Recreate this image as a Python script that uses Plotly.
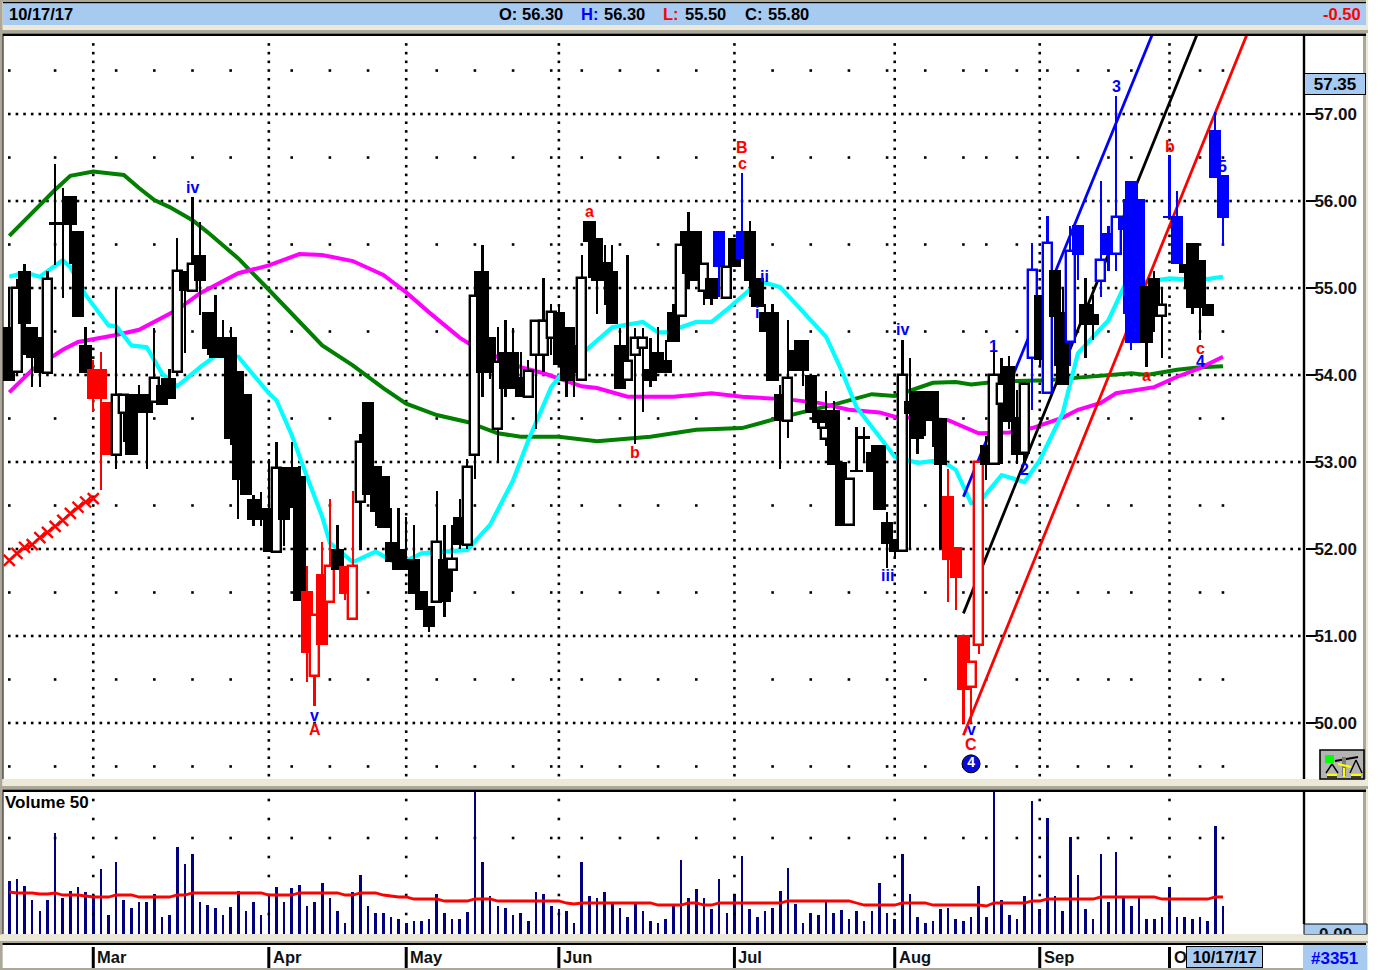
import plotly.graph_objects as go
import numpy as np

W, H = 1400, 970
opens = [54.55,54.03,55.20,54.55,54.44,54.02,55.76,55.76,56.06,55.66,54.34,54.07,54.07,53.69,53.08,53.56,53.78,53.78,53.78,53.69,
53.88,53.97,54.03,55.20,54.97,55.38,54.72,54.34,54.44,54.44,54.05,53.78,52.58,52.47,52.47,51.97,52.94,52.94,52.84,51.52,
50.54,51.71,51.39,52.00,51.81,51.20,52.54,53.69,52.95,52.84,52.08,52.00,51.89,51.89,51.52,51.35,51.39,51.89,51.76,52.37,
52.05,53.08,55.20,54.44,53.38,54.26,54.26,53.98,53.75,54.23,54.23,54.42,54.72,54.55,54.34,53.94,55.77,55.57,55.30,55.20,
54.34,53.94,54.23,54.31,54.07,54.26,54.17,54.72,54.68,55.66,55.66,54.97,55.11,55.66,54.88,55.57,55.66,55.66,55.11,54.72,
54.72,53.78,53.47,54.29,54.40,54.00,53.60,53.27,53.60,53.00,52.28,52.91,53.30,53.12,53.20,52.31,52.12,51.98,53.70,53.82,
53.82,53.82,53.51,52.61,52.02,51.01,50.41,50.90,53.20,52.98,53.67,54.10,53.52,53.10,54.19,54.92,53.79,55.21,54.73,54.38,
55.72,54.82,54.70,55.08,55.63,55.39,55.82,56.23,56.02,55.02,55.12,54.68,55.83,55.83,55.28,55.52,55.32,54.82,56.82,56.30]
highs = [55.00,55.10,55.28,54.55,54.44,55.20,56.43,56.15,56.06,55.66,54.55,54.17,54.26,53.69,55.00,53.77,53.78,53.88,53.78,54.54,
53.97,54.07,55.57,55.20,56.05,55.76,54.72,54.92,54.63,54.55,54.05,53.78,52.62,52.66,53.03,53.23,52.94,53.23,52.95,51.81,
51.24,52.08,52.58,52.28,51.81,52.67,53.32,53.69,52.95,52.84,52.47,52.47,52.37,52.28,51.52,51.35,52.67,52.28,52.28,52.57,
53.03,55.20,55.49,54.44,54.55,54.63,54.54,54.26,54.17,54.62,55.11,54.82,54.82,54.55,54.55,55.38,55.77,55.57,55.49,55.49,
54.54,55.38,54.54,54.54,54.42,54.55,54.40,54.82,55.66,55.87,55.66,55.28,55.11,55.66,55.24,55.57,56.32,55.77,55.11,54.82,
54.82,53.88,54.63,54.40,54.40,54.00,53.60,53.82,53.70,53.00,52.81,53.40,53.40,53.20,53.20,52.42,52.12,54.40,54.20,53.82,
53.82,53.82,53.51,52.92,52.02,51.01,50.70,53.00,53.30,54.37,54.20,54.22,53.83,53.90,55.52,54.92,55.83,55.21,54.99,55.71,
55.72,55.11,54.92,56.23,55.71,57.21,56.02,56.23,56.02,55.02,55.20,55.00,56.53,56.11,55.28,55.52,55.32,54.82,57.02,56.30]
lows = [53.93,54.00,54.23,53.86,53.86,54.02,55.26,54.88,55.28,54.67,54.02,53.57,52.68,53.08,52.92,53.23,53.08,53.56,52.92,53.69,
53.65,53.73,54.00,54.25,54.97,54.69,54.23,54.20,54.20,53.20,52.35,52.62,52.27,52.27,51.97,51.97,52.04,52.47,51.40,50.47,
50.19,50.90,51.39,51.76,51.41,51.20,51.99,52.62,52.26,52.24,51.85,51.76,51.76,51.48,51.30,51.05,51.39,51.22,51.50,52.00,
52.00,52.80,53.75,53.95,53.00,53.75,53.84,53.75,53.75,53.38,54.03,54.23,54.12,53.75,53.75,53.94,55.11,54.70,54.80,54.59,
53.84,53.94,53.21,53.58,53.86,54.02,54.02,54.38,54.68,54.99,55.08,54.81,54.81,54.90,54.88,55.24,55.33,54.90,54.78,54.50,
53.93,52.92,53.28,54.05,53.87,53.56,53.38,53.18,52.96,52.26,52.28,52.88,53.00,52.88,52.45,51.78,51.89,51.98,52.00,53.09,
53.30,53.17,52.00,51.39,51.30,50.00,50.00,50.79,52.79,52.98,52.98,53.38,52.98,52.98,53.60,54.10,53.79,54.10,53.88,54.10,
55.09,54.20,54.40,54.90,55.20,55.20,54.70,54.29,54.37,54.09,54.49,54.20,55.80,55.28,54.99,54.70,54.40,54.68,56.27,55.50]
closes = [53.93,55.00,54.59,54.20,54.02,55.10,55.73,55.73,55.73,54.67,54.02,53.73,53.73,53.08,53.77,53.77,53.08,53.56,53.56,53.97,
53.65,53.73,55.20,54.97,55.28,55.08,54.30,54.20,54.20,53.27,52.79,52.62,52.33,52.33,51.97,52.93,52.33,52.47,51.40,50.81,
51.24,50.90,51.81,51.76,51.48,51.81,53.23,52.62,52.43,52.24,51.85,51.76,51.76,51.48,51.30,51.10,52.08,51.39,51.89,52.05,
52.94,54.91,54.02,54.02,54.15,53.84,53.84,53.75,54.05,54.62,54.62,54.72,54.12,53.93,54.02,55.11,55.53,55.08,55.08,54.59,
53.84,54.16,54.42,54.42,53.93,54.02,54.02,54.38,55.49,55.16,55.08,55.28,54.87,55.24,55.24,55.24,55.33,55.08,54.78,54.50,
53.93,53.47,53.96,54.05,54.05,53.56,53.45,53.39,52.96,52.26,52.81,52.88,53.27,52.88,52.45,52.06,51.97,54.00,53.55,53.26,
53.47,53.47,52.96,51.87,51.67,50.38,50.70,53.00,52.96,54.00,53.90,53.46,53.08,53.90,55.21,54.17,55.52,54.67,53.88,55.42,
55.38,54.58,54.58,55.32,55.38,55.82,55.67,54.37,54.37,54.37,54.67,54.80,55.80,55.28,55.17,54.77,54.77,54.68,56.27,55.80]
bar_colors = list(
    "kkkkkkkkkkkrrrkkkkkkkkkkkkkkkkkkkkkkkkkrrrrkrrkkkkkkkkkkkkkk"
    "kkkkkkkkkkkkkkkkkkkkkkkkkkkkkkkkkbkkbkkkkkkkkkkkkkkkkkkkkkkk"
    "kkkrrrrrkkkkkkbkbkkbbkkbbbbbbkkkbbkkkkbb")

volume = [53,55,48,34,23,34,101,36,43,47,42,39,65,19,72,34,26,32,32,40,17,19,87,70,80,32,29,26,19,27,43,23,32,19,39,47,32,46,49,28,32,51,36,23,11,42,59,28,21,21,17,15,11,13,13,15,40,21,15,15,22,142,72,38,28,
26,19,21,13,42,40,28,25,23,11,72,38,36,42,30,26,17,30,23,13,11,15,28,74,36,45,36,25,55,21,40,78,25,17,23,26,43,66,30,11,21,19,32,21,24,15,23,13,23,51,21,15,80,40,17,11,13,25,26,15,13,17,48,17,142,
34,19,15,38,133,25,116,38,23,97,59,25,15,80,32,82,36,28,36,15,15,17,47,17,17,15,17,13,108,28]
volume_ma = [42,41,41,41,40,40,41,39,39,39,38,37,37,37,39,39,39,37,37,37,37,37,39,39,41,41,41,41,41,41,41,41,41,41,39,39,39,39,41,41,41,41,41,41,39,39,41,41,41,39,38,37,37,35,35,35,35,33,33,33,33,35,35,35,33,
33,33,33,33,33,33,33,33,31,30,31,31,31,31,31,31,31,31,31,31,29,29,29,29,31,31,29,29,31,31,31,31,31,31,31,31,31,33,33,33,33,33,33,33,33,33,31,29,29,29,29,29,31,31,31,31,29,29,29,29,29,29,29,28,31,
31,31,31,31,33,33,35,35,35,35,35,35,35,37,37,37,37,37,37,37,37,35,35,35,35,35,35,35,37,37]

green_i = [0,2,4,6,8,10,11,13,15,17,19,21,24,26,30,34,38,41,45,49,52,56,60,64,67,72,77,84,90,96,101,108,113,116,121,124,126,129,132,136,140,144,147,149,153,156,159]
green_p = [55.60,55.78,55.95,56.13,56.29,56.33,56.34,56.32,56.30,56.15,56.01,55.93,55.78,55.64,55.34,54.98,54.61,54.34,54.11,53.85,53.67,53.54,53.46,53.33,53.29,53.29,53.24,53.29,53.37,53.39,53.51,53.66,53.78,53.76,53.91,53.92,53.89,53.92,53.93,53.94,53.97,54.00,54.02,54.00,54.06,54.09,54.10]
cyan_i = [0,2,4,7,8,10,13,14,16,18,20,22,25,27,30,34,35,37,39,41,42,45,48,51,54,60,63,66,68,71,73,76,79,83,85,86,90,92,94,97,99,101,104,107,109,111,114,116,119,122,124,126,127,130,133,135,138,140,144,146,148,152,156,159]
cyan_p = [55.13,55.18,55.13,55.32,55.24,54.92,54.57,54.56,54.34,54.32,54.02,53.87,54.09,54.22,54.21,53.79,53.71,53.31,52.83,52.37,52.07,51.85,51.97,51.82,51.95,51.99,52.28,52.79,53.25,53.86,54.09,54.32,54.55,54.61,54.49,54.49,54.61,54.61,54.75,54.98,55.06,55.01,54.72,54.44,54.06,53.63,53.29,53.06,52.99,53.02,52.91,52.53,52.53,52.85,52.77,53.02,53.56,54.25,54.63,55.01,55.06,55.11,55.09,55.13]
magenta_i = [0,3,7,9,14,17,22,25,30,34,38,41,45,49,52,55,59,61,67,70,75,77,81,87,92,96,102,106,110,114,116,123,127,129,131,134,138,140,143,145,150,153,156,159]
magenta_p = [53.80,54.06,54.29,54.38,54.46,54.52,54.75,54.94,55.17,55.26,55.39,55.38,55.31,55.15,54.95,54.72,54.43,54.32,54.09,54.02,53.87,53.85,53.75,53.75,53.79,53.75,53.72,53.68,53.60,53.57,53.52,53.48,53.33,53.34,53.34,53.39,53.51,53.60,53.68,53.79,53.86,53.98,54.08,54.21]
stop_i = [0,1,2,3,4,5,6,7,8,9,10,11]
stop_p = [51.87,51.95,52.02,52.05,52.13,52.19,52.26,52.33,52.41,52.48,52.54,52.58]

trend_i = [125, 150]
trend_blue = [52.60, 57.97]
trend_i_black = [125, 156]
trend_black = [51.26, 58.00]
trend_i_red = [125, 163]
trend_red = [49.86, 58.10]

price_ticks = [50, 51, 52, 53, 54, 55, 56, 57]
half_rows = [50.5, 51.5, 52.5, 53.5, 54.5, 55.5, 56.5, 49.5, 57.5]
week_idx = [0,6,14,19,24,29,37,42,47,56,61,66,71,75,80,85,90,100,105,110,115,120,125,128,132,136,140,144,147,156,159]
month_names = ["Mar","Apr","May","Jun","Jul","Aug","Sep","Oct"]
month_idx = [11,34,52,72,95,116,135,152]
vol_grid = [20,39,58,77,96,115,134]

label_text = ["iv","a","B","c","b","ii","i","iv","iii","1","2","3","b","5","c","4","a","v","A","v","C"]
label_i = [24,76,96,96,82,99,98,117,115,129,133,145,152,159,156,156,149,40,40,126,126]
label_p = [56.16,55.885,56.61,56.43,53.11,55.13,54.72,54.52,51.69,54.33,52.91,57.32,56.63,56.40,54.30,54.15,54.00,50.09,49.92,49.92,49.75]
label_col = ["b","r","r","r","r","b","b","b","b","b","b","b","r","b","r","b","r","b","r","b","r"]

PAL = {"k": "#000000", "r": "#FF0000", "b": "#0000FF"}
BLUE_BAR = "#A6CAF0"; CREAM = "#ECE9D8"; GREY = "#ACA899"
FONT = "Liberation Sans"

def px(x): return x / W
def py(y): return 1 - y / H

XR = [-0.825, 169.75]
YR = [49.356, 57.897]
DOMX = [px(3), px(1305)]
DOMY = [py(779), py(36)]
DOMV = [py(934), py(792)]

# candles: wick then body, bar by bar, so later bars paint over earlier ones
cx, cbase, cy, cw, cfill, cline, clw = [], [], [], [], [], [], []
for i, (o, h, l, c, k) in enumerate(zip(opens, highs, lows, closes, bar_colors)):
    col = PAL[k]
    cx.append(i); cbase.append(l); cy.append(max(h - l, 0.01)); cw.append(0.3); cfill.append(col); cline.append(col); clw.append(0)
    hollow = c > o
    cx.append(i); cbase.append(min(o, c)); cy.append(max(abs(c - o), 0.025))
    cw.append(1.2 if hollow else 1.62)
    cfill.append("#FFFFFF" if hollow else col); cline.append(col); clw.append(2.4 if hollow else 0)

fig = go.Figure()

def dots(xs, ys, xa="x", ya="y", clip=True):
    fig.add_trace(go.Scatter(x=xs, y=ys, mode="markers", xaxis=xa, yaxis=ya, cliponaxis=clip,
                             marker=dict(symbol="square", size=2.6, color="#000000", line=dict(width=0)),
                             showlegend=False, hoverinfo="skip"))

tenth = [round(v, 1) for v in np.arange(49.4, 57.9, 0.1)]
all_bars = list(range(0, 170))
dots([b for _ in price_ticks for b in all_bars], [p for p in price_ticks for _ in all_bars])
dots([w for _ in half_rows for w in week_idx], [p for p in half_rows for _ in week_idx])
dots([m for m in month_idx for _ in tenth], [t for _ in month_idx for t in tenth])
dots([170.3] * len(tenth), tenth, clip=False)

def line(xs, ys, color, width):
    fig.add_trace(go.Scatter(x=xs, y=ys, mode="lines", line=dict(color=color, width=width),
                             showlegend=False, hoverinfo="skip", xaxis="x", yaxis="y"))

line(green_i, green_p, "#007F00", 4)
line(magenta_i, magenta_p, "#FF00FF", 4)
line(cyan_i, cyan_p, "#00FFFF", 4.2)
line(trend_i, trend_blue, "#0000FF", 2.8)
line(trend_i_black, trend_black, "#000000", 2.8)
line(trend_i_red, trend_red, "#FF0000", 2.8)
fig.add_trace(go.Scatter(x=stop_i, y=stop_p, mode="lines+markers", line=dict(color="#FF0000", width=2),
                         marker=dict(symbol="x-thin", size=11, line=dict(color="#FF0000", width=2.4)),
                         showlegend=False, hoverinfo="skip", xaxis="x", yaxis="y"))

fig.add_trace(go.Bar(x=cx, y=cy, base=cbase, width=cw, xaxis="x2", yaxis="y2",
                     marker=dict(color=cfill, line=dict(color=cline, width=clw)),
                     showlegend=False, hoverinfo="skip"))
fig.add_trace(go.Scatter(x=[126], y=[49.53], mode="markers+text", text=["4"], textposition="middle center",
                         textfont=dict(family=FONT, size=14, color="#FFFFFF", weight=700),
                         marker=dict(size=18, color="#0A0ADC", line=dict(color="#000000", width=1)),
                         xaxis="x2", yaxis="y2", showlegend=False, hoverinfo="skip"))

# volume pane
dots([m for m in month_idx for _ in vol_grid], [v for _ in month_idx for v in vol_grid], "x3", "y3")
dots(week_idx, [96] * len(week_idx), "x3", "y3")
dots([170.3] * len(vol_grid), vol_grid, "x3", "y3", clip=False)
fig.add_trace(go.Bar(x=list(range(len(volume))), y=volume, width=0.34, marker=dict(color="#000080", line=dict(width=0)),
                     xaxis="x3", yaxis="y3", showlegend=False, hoverinfo="skip"))
fig.add_trace(go.Scatter(x=list(range(len(volume_ma))), y=volume_ma, mode="lines", line=dict(color="#FF0000", width=2.8),
                         xaxis="x3", yaxis="y3", showlegend=False, hoverinfo="skip"))

def rect(x0, y0, x1, y1, fill, layer="below", lw=0, lc="#000000"):
    return dict(type="rect", xref="paper", yref="paper", x0=px(x0), x1=px(x1), y0=py(y0), y1=py(y1),
                fillcolor=fill, line=dict(width=lw, color=lc), layer=layer)

def seg(x0, y0, x1, y1, color, width=2, layer="above"):
    return dict(type="line", xref="paper", yref="paper", x0=px(x0), x1=px(x1), y0=py(y0), y1=py(y1),
                line=dict(color=color, width=width), layer=layer)

shapes = [
    rect(0, 0, 1368, 970, CREAM),
    rect(3, 36, 1305, 779, "#FFFFFF"), rect(1305, 36, 1363, 779, "#FFFFFF"),
    rect(3, 792, 1305, 934, "#FFFFFF"), rect(1305, 792, 1363, 924, "#FFFFFF"),
    rect(3, 945, 1303, 968, "#FFFFFF"),
    rect(0, 0, 1366, 2, GREY), rect(3, 2, 1366, 3.5, "#000000"), rect(3, 3.5, 1366, 25, BLUE_BAR),
    rect(0, 0, 2.5, 970, GREY),
    rect(0, 30, 1368, 33, GREY), rect(2.5, 33.5, 1366, 36, "#000000"),
    rect(2.5, 36, 3.5, 779, "#000000"), rect(1363, 36, 1366, 779, GREY),
    rect(2.5, 779.5, 1368, 788, CREAM, "above"), rect(0, 786, 1368, 789, GREY, "above"),
    rect(2.5, 789.5, 1366, 792, "#000000"), rect(2.5, 792, 3.5, 934, "#000000"), rect(1363, 792, 1366, 924, GREY),
    rect(1304, 924, 1367, 934.5, BLUE_BAR, lw=1),
    rect(0, 934.5, 1368, 942, CREAM, "above"), rect(0, 941, 1368, 943, GREY, "above"),
    rect(2.5, 943, 1366, 945, "#000000"),
    rect(0, 968, 1303, 970, GREY),
    rect(1303, 945, 1367, 970, BLUE_BAR),
    seg(1304, 36, 1304, 779, "#000000", 2.4), seg(1304, 792, 1304, 924, "#000000", 2.4),
    rect(1320, 750, 1364, 779, "#B4B4B4", "above", 1.6, "#000000"),
    rect(1325, 755, 1334, 763, "#00FF00", "above"),
    seg(1335, 761, 1358, 757, "#000000", 2), seg(1344, 757, 1344, 776, "#7A7A7A", 4),
    seg(1338, 764, 1351, 767, "#FFFF00", 2), seg(1344, 768, 1344, 777, "#FFFF00", 2),
    seg(1327, 775, 1337, 775, "#FFFF00", 2.4), seg(1351, 775, 1361, 775, "#FFFF00", 2.4),
    seg(1332, 764, 1326, 773, "#000000", 1.4), seg(1332, 764, 1338, 773, "#000000", 1.4),
    seg(1356, 760, 1350, 773, "#000000", 1.4), seg(1356, 760, 1362, 773, "#000000", 1.4),
    seg(1327, 777, 1337, 777, "#000000", 1.4), seg(1351, 777, 1361, 777, "#000000", 1.4),
]
for m in month_idx:
    shapes.append(dict(type="line", xref="x3", yref="paper", x0=m, x1=m, y0=py(947), y1=py(968),
                       line=dict(color="#000000", width=3), layer="below"))

def note(x, y, text, color="#000000", size=16, anchor="left", **kw):
    return dict(xref="paper", yref="paper", x=px(x), y=py(y), text=text, showarrow=False, xanchor=anchor,
                yanchor="middle", font=dict(family=FONT, size=size, color=color, weight=700), borderpad=0, **kw)

anns = [
    note(8, 14, "10/17/17", size=16.5),
    note(498, 14, "O:", size=16.5), note(521, 14, "56.30", size=16.5),
    note(580, 14, "H:", "#0000FF", size=16.5), note(603, 14, "56.30", size=16.5),
    note(662, 14, "L:", "#FF0000", size=16.5), note(684, 14, "55.50", size=16.5),
    note(744, 14, "C:", size=16.5), note(767, 14, "55.80", size=16.5),
    note(1362, 14, "-0.50", "#FF0000", anchor="right", size=16.5),
    note(4, 802, "Volume 50", size=17),
]
for t, i, p, c in zip(label_text, label_i, label_p, label_col):
    anns.append(dict(xref="x2", yref="y2", x=i, y=p, text=t, showarrow=False, xanchor="center", yanchor="middle",
                     font=dict(family=FONT, size=16, color=PAL[c], weight=700), borderpad=0))
for name, m in zip(month_names, month_idx):
    anns.append(dict(xref="x3", yref="paper", x=m, y=py(957), text=name, showarrow=False, xanchor="left", yanchor="middle",
                     xshift=3, font=dict(family=FONT, size=16.5, color="#111111", weight=700), borderpad=0))
anns.append(note(1224, 957, "10/17/17", anchor="center", size=16.5, bgcolor=BLUE_BAR, bordercolor="#000000", borderwidth=1, width=75, height=20))
anns.append(note(1335, 84, "57.35", anchor="center", size=17, bgcolor=BLUE_BAR, bordercolor="#000000", borderwidth=1, width=60, height=20))
anns.append(note(1334, 958, "#3351", "#0000FF", anchor="center", size=17))

hidden = dict(visible=False, fixedrange=True, automargin=False)
fig.update_layout(
    template="none",
    width=W, height=H, autosize=False, margin=dict(l=0, r=0, t=0, b=0, pad=0, autoexpand=False),
    paper_bgcolor="#FFFFFF", plot_bgcolor="rgba(0,0,0,0)",
    barmode="overlay", bargap=0, hovermode=False, showlegend=False,
    xaxis=dict(domain=DOMX, range=XR, anchor="y", **hidden),
    yaxis=dict(domain=DOMY, range=YR, anchor="x", side="right", tickmode="array", tickvals=price_ticks, automargin=False,
               ticktext=["%.2f" % v for v in price_ticks], ticks="outside", ticklen=10, tickwidth=2, tickcolor="#000000",
               ticklabelstandoff=-5, tickfont=dict(family=FONT, size=17, color="#111111", weight=700),
               showgrid=False, zeroline=False, showline=False, fixedrange=True),
    xaxis2=dict(domain=DOMX, range=XR, anchor="y2", overlaying="x", **hidden),
    yaxis2=dict(domain=DOMY, range=YR, anchor="x2", overlaying="y", **hidden),
    xaxis3=dict(domain=DOMX, range=XR, anchor="y3", **hidden),
    yaxis3=dict(domain=DOMV, range=[0, 142], anchor="x3", side="right", tickmode="array", tickvals=[0], ticktext=["0.00"], automargin=False,
                ticks="", ticklabelstandoff=13, tickfont=dict(family=FONT, size=17, color="#111111", weight=700),
                showgrid=False, zeroline=False, showline=False, fixedrange=True),
    shapes=shapes, annotations=anns,
)
fig.write_html("out.html", config={"displayModeBar": False},
               post_script="document.body.style.margin='0';document.body.style.overflow='hidden';")
